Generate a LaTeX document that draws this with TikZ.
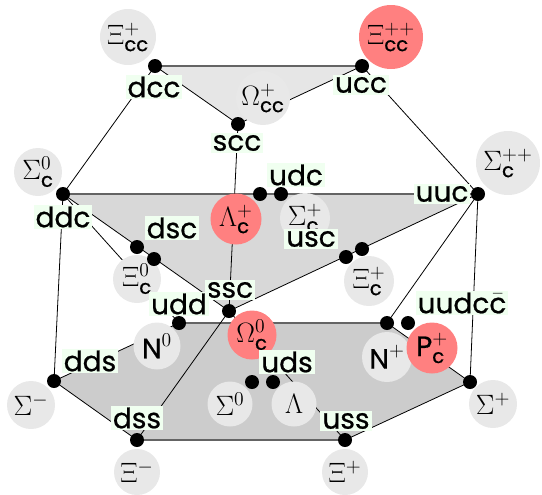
\RequirePackage{fix-cm}
\documentclass[tikz,border=0pt]{standalone}
\usepackage{amsmath}
\usepackage{fontspec}
\setsansfont{Poppins}[FakeBold=0.7]
\definecolor{cgray}{RGB}{232,232,232}
\definecolor{cred}{RGB}{255,128,128}
\definecolor{ftop}{RGB}{230,230,230}
\definecolor{fmid}{RGB}{216,216,216}
\definecolor{fbot}{RGB}{204,204,204}
\definecolor{lbg}{RGB}{240,255,240}
\definecolor{edgegray}{RGB}{100,100,100}
\newcommand{\qs}[1]{\textsf{#1}}
\begin{document}
\begin{tikzpicture}[x=0.75pt,y=-0.75pt,
  hc/.style={circle,fill=cgray,inner sep=0pt,minimum size=#1*1.5pt,font=\fontsize{21}{25}\selectfont},
  rc/.style={hc=#1,fill=cred},
  qlab/.style={fill=lbg,inner sep=1.5pt,font=\sffamily\fontsize{21}{25}\selectfont},
  thinl/.style={line width=0.6pt,draw=black},
  thickl/.style={line width=1.5pt,draw=edgegray}]
\useasboundingbox (0,0) rectangle (542,494);
% vertices
\coordinate (dcc) at (155,66);
\coordinate (ucc) at (362,66);
\coordinate (scc) at (238,124);
\coordinate (ddc) at (63,194);
\coordinate (udc1) at (260,194);
\coordinate (udc2) at (281,194);
\coordinate (uuc) at (478,194);
\coordinate (dsc1) at (137,247);
\coordinate (dsc2) at (154,259);
\coordinate (usc1) at (346,257);
\coordinate (usc2) at (362,249);
\coordinate (ssc) at (229,311);
\coordinate (udd) at (179,323);
\coordinate (uud) at (387,323);
\coordinate (pent) at (408,323);
\coordinate (uus) at (470,382);
\coordinate (uss) at (345,440);
\coordinate (dss) at (137,440);
\coordinate (dds) at (54,381);
\coordinate (uds1) at (252,382);
\coordinate (uds2) at (273,382);
% planes
\fill[ftop] (dcc) -- (ucc) -- (scc) -- cycle;
\fill[fmid] (ddc) -- (uuc) -- (ssc) -- cycle;
\fill[fbot] (udd) -- (uud) -- (uus) -- (uss) -- (dss) -- (dds) -- cycle;
% edges
\draw[thickl] (dcc) -- (ucc);
\draw[thickl] (ddc) -- (uuc);
\draw[thickl] (udd) -- (uud);
\draw[thickl] (dss) -- (uss);
\draw[thinl] (dcc) -- (scc) -- (ucc);
\draw[thinl] (ddc) -- (ssc) -- (uuc);
\draw[thinl] (dcc) -- (ddc);
\draw[thinl] (ucc) -- (uuc);
\draw[thinl] (scc) -- (ssc);
\draw[thinl] (ddc) -- (dds);
\draw[thinl] (ddc) -- (udd);
\draw[thinl] (uuc) -- (uud);
\draw[thinl] (uuc) -- (uus);
\draw[thinl] (ssc) -- (dss);
\draw[thinl] (ssc) -- (uss);
\draw[thinl] (dds) -- (udd);
\draw[thinl] (uud) -- (uus) -- (uss);
\draw[thinl] (dss) -- (dds);
% hadrons
\node[hc=28] (Xiccp) at (128,37) {$\Xi^{+}_{\qs{cc}}$};
\node[rc=32] (Xiccpp) at (391,37) {$\Xi^{++}_{\qs{cc}}$};
\node[hc=27] (Omccp) at (263,98) {$\Omega^{+}_{\qs{cc}}$};
\node[hc=24] (Sc0) at (38,172) {$\Sigma^{0}_{\qs{c}}$};
\node[hc=32] (Scpp) at (508,163) {$\Sigma^{++}_{\qs{c}}$};
\node[rc=25.5] (Lcp) at (236,219) {$\Lambda^{+}_{\qs{c}}$};
\node[hc=25] (Scp) at (305,218) {$\Sigma^{+}_{\qs{c}}$};
\node[hc=24] (Xic0) at (137,279) {$\Xi^{0}_{\qs{c}}$};
\node[hc=25] (Xicp) at (369,281) {$\Xi^{+}_{\qs{c}}$};
\node[hc=23.5] (N0) at (157,346) {$\qs{N}^{0}$};
\node[rc=24.5] (Omc0) at (252,335) {$\Omega^{0}_{\qs{c}}$};
\node[hc=25] (Np) at (387,357) {$\qs{N}^{+}$};
\node[rc=25.5] (Pcp) at (432,348) {$\qs{P}^{+}_{\qs{c}}$};
\node[hc=24] (Sm) at (31,405) {$\Sigma^{-}$};
\node[hc=22.5] (S0) at (230,404) {$\Sigma^{0}$};
\node[hc=22.5] (L0) at (294,404) {$\Lambda$};
\node[hc=24] (Sp) at (493,404) {$\Sigma^{+}$};
\node[hc=23] (Xim) at (137,472) {$\Xi^{-}$};
\node[hc=23] (Xip) at (345,472) {$\Xi^{+}$};
% dots
\foreach \p in {dcc,ucc,scc,ddc,udc1,udc2,uuc,dsc1,dsc2,usc1,usc2,ssc,udd,uud,pent,uus,uss,dss,dds,uds1,uds2}
  \fill (\p) circle (7);
% quark labels
\node[qlab] (Ldcc) at (154,87) {dcc};
\node[qlab] (Lucc) at (361,85) {ucc};
\node[qlab] (Lscc) at (237,143) {scc};
\node[qlab] (Ludc) at (296,175) {udc};
\node[qlab] (Luuc) at (442,194) {uuc};
\node[qlab] (Lddc) at (63,217) {ddc};
\node[qlab] (Ldsc) at (172,228) {dsc};
\node[qlab] (Lusc) at (311,239) {usc};
\node[qlab] (Lssc) at (230,290) {ssc};
\node[qlab] (Ludd) at (179,304) {udd};
\node[qlab] (Ldds) at (90,361) {dds};
\node[qlab] (Luds) at (287,362) {uds};
\node[qlab] (Lpent) at (462,303) {uudc$\bar{\textsf{c}}$};
\node[qlab] (Luss) at (346,421) {uss};
\node[qlab] (Ldss) at (137,418) {dss};
\end{tikzpicture}
\end{document}
